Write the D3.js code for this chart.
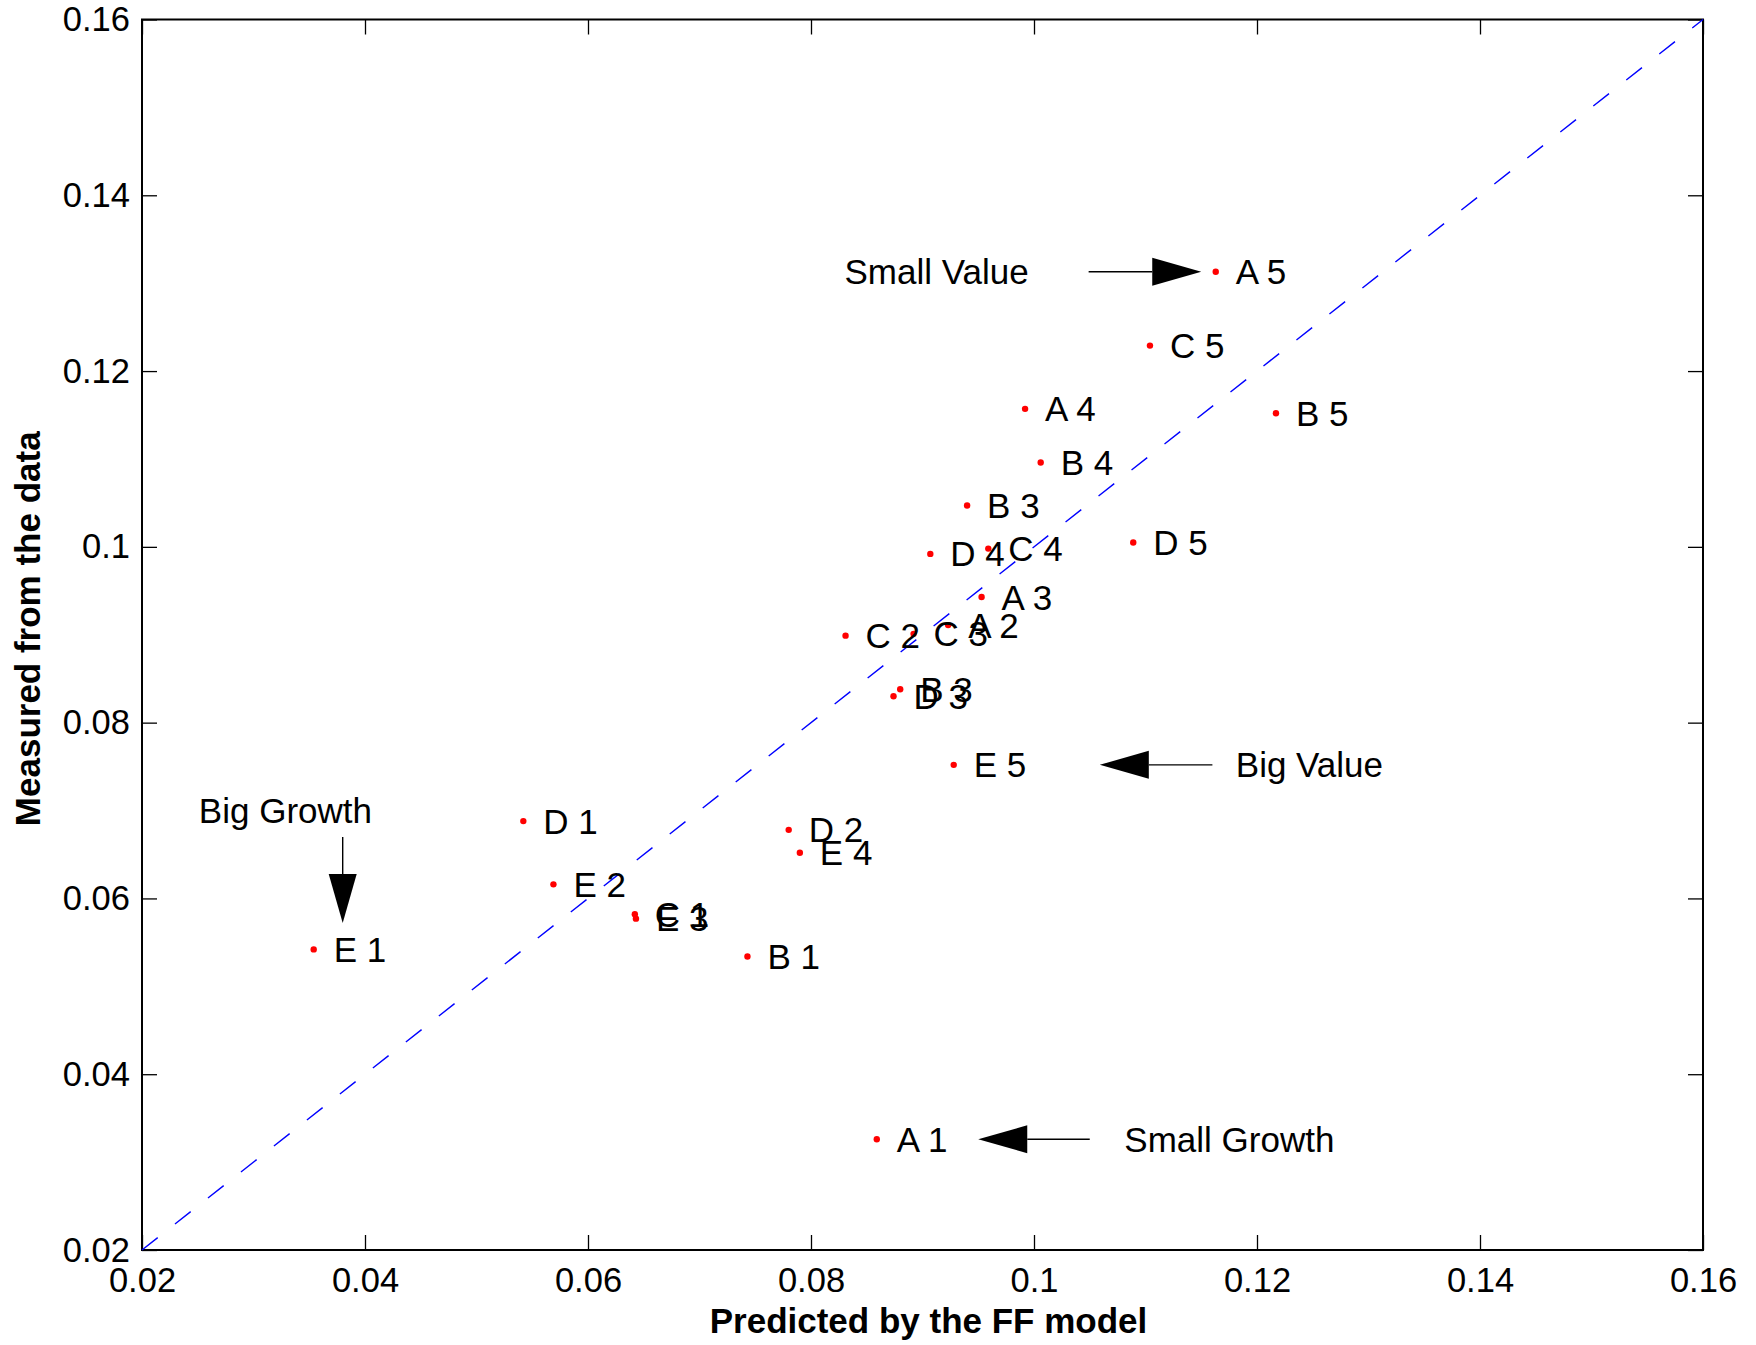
<!DOCTYPE html>
<html>
<head>
<meta charset="utf-8">
<script src="https://cdn.jsdelivr.net/npm/d3@7"></script>
<style>
  html, body { margin: 0; padding: 0; background: #fff; }
  svg { display: block; font-family: "Liberation Sans", Arial, Helvetica, sans-serif; }
  .tick line { stroke: #000; stroke-width: 1.3; }
  .tick text { font-size: 34.5px; fill: #000; }
  .pt-label, .note { font-size: 35px; fill: #000; }
  .axis-title { font-size: 35px; font-weight: bold; fill: #000; }
</style>
</head>
<body>
<svg id="chart" width="1756" height="1345"></svg>
<script>
// scatter: predicted (FF model) vs measured values

const labels = ['A 1', 'A 2', 'A 3', 'A 4', 'A 5',
                'B 1', 'B 3', 'B 3', 'B 4', 'B 5',
                'C 1', 'C 2', 'C 3', 'C 4', 'C 5',
                'D 1', 'D 2', 'D 3', 'D 4', 'D 5',
                'E 1', 'E 2', 'E 3', 'E 4', 'E 5'];
const predicted = [0.0859, 0.0923, 0.0953, 0.0992, 0.1163,
                   0.0743, 0.0880, 0.0940, 0.1006, 0.1217,
                   0.0642, 0.0831, 0.0892, 0.0959, 0.1104,
                   0.0542, 0.0780, 0.0874, 0.0907, 0.1089,
                   0.0354, 0.0569, 0.0643, 0.0790, 0.0928];
const measured  = [0.0326, 0.0911, 0.0943, 0.1157, 0.1313,
                   0.0534, 0.0838, 0.1047, 0.1096, 0.1152,
                   0.0582, 0.0899, 0.0901, 0.0998, 0.1229,
                   0.0688, 0.0678, 0.0830, 0.0992, 0.1005,
                   0.0542, 0.0616, 0.0577, 0.0652, 0.0752];

const tickValues = [0.02, 0.04, 0.06, 0.08, 0.10, 0.12, 0.14, 0.16];
const tickLabels = ['0.02', '0.04', '0.06', '0.08', '0.1', '0.12', '0.14', '0.16'];

// annotations (data coordinates)
const noteText   = ['Small Value', 'Big Value', 'Small Growth', 'Big Growth'];
const noteX      = [0.0830, 0.1181, 0.1081, 0.0251];
const noteY      = [0.1313, 0.0752, 0.0326, 0.0700];
const arrowFromX = [0.1049, 0.1160, 0.1050, 0.0380];
const arrowFromY = [0.1313, 0.0752, 0.0326, 0.0670];
const arrowToX   = [0.1150, 0.1059, 0.0950, 0.0380];
const arrowToY   = [0.1313, 0.0752, 0.0326, 0.0572];

const diagonal = [[0.02, 0.02], [0.16, 0.16]];

const L = 142, R = 1703, T = 19.5, B = 1250;
const TICK = 15;

const svg = d3.select('#chart');

const x = d3.scaleLinear().domain([0.02, 0.16]).range([L, R]);
const y = d3.scaleLinear().domain([0.02, 0.16]).range([B, T]);

const fmt = d => tickLabels[tickValues.indexOf(d)];

// axes with inward ticks
svg.append('g').attr('transform', `translate(0,${B})`)
  .call(d3.axisBottom(x).tickValues(tickValues).tickFormat(fmt)
    .tickSizeInner(-TICK).tickSizeOuter(0).tickPadding(18));
svg.append('g').attr('transform', `translate(${L},0)`)
  .call(d3.axisLeft(y).tickValues(tickValues).tickFormat(fmt)
    .tickSizeInner(-TICK).tickSizeOuter(0).tickPadding(12));
svg.append('g').attr('transform', `translate(0,${T})`)
  .call(d3.axisTop(x).tickValues(tickValues).tickFormat('')
    .tickSizeInner(-TICK).tickSizeOuter(0));
svg.append('g').attr('transform', `translate(${R},0)`)
  .call(d3.axisRight(y).tickValues(tickValues).tickFormat('')
    .tickSizeInner(-TICK).tickSizeOuter(0));

svg.selectAll('.domain').remove();
svg.selectAll('.tick text').attr('font-family', null).attr('font-size', null);

// box
svg.append('rect')
  .attr('x', L).attr('y', T)
  .attr('width', R - L).attr('height', B - T)
  .attr('fill', 'none').attr('stroke', '#000').attr('stroke-width', 2);

// 45 degree reference line
svg.append('path')
  .attr('d', d3.line().x(d => x(d[0])).y(d => y(d[1]))(diagonal))
  .attr('fill', 'none')
  .attr('stroke', '#0000ff')
  .attr('stroke-width', 1.4)
  .attr('stroke-dasharray', '20 22');

// points + labels
const pts = labels.map((l, i) => ({ label: l, px: predicted[i], my: measured[i] }));

svg.append('g').selectAll('circle')
  .data(pts)
  .join('circle')
  .attr('cx', d => x(d.px))
  .attr('cy', d => y(d.my))
  .attr('r', 3.2)
  .attr('fill', '#ff0000');

svg.append('g').selectAll('text')
  .data(pts)
  .join('text')
  .attr('class', 'pt-label')
  .attr('x', d => x(d.px) + 20)
  .attr('y', d => y(d.my))
  .attr('dy', '0.36em')
  .text(d => d.label);

// annotation arrows
const notes = noteText.map((t, i) => ({
  text: t, tx: noteX[i], ty: noteY[i],
  x1: arrowFromX[i], y1: arrowFromY[i], x2: arrowToX[i], y2: arrowToY[i]
}));

const HEAD_LEN = 49, HEAD_HALF = 14;
const ann = svg.append('g');

notes.forEach(n => {
  const ax = x(n.x1), ay = y(n.y1), bx = x(n.x2), by = y(n.y2);
  const ang = Math.atan2(by - ay, bx - ax);
  const ux = Math.cos(ang), uy = Math.sin(ang);
  const baseX = bx - ux * HEAD_LEN, baseY = by - uy * HEAD_LEN;

  ann.append('line')
    .attr('x1', ax).attr('y1', ay).attr('x2', baseX).attr('y2', baseY)
    .attr('stroke', '#000').attr('stroke-width', 1.4);

  ann.append('path')
    .attr('d', `M${bx},${by}L${baseX - uy * HEAD_HALF},${baseY + ux * HEAD_HALF}` +
               `L${baseX + uy * HEAD_HALF},${baseY - ux * HEAD_HALF}Z`)
    .attr('fill', '#000');

  ann.append('text')
    .attr('class', 'note')
    .attr('x', x(n.tx)).attr('y', y(n.ty))
    .attr('dy', '0.36em')
    .text(n.text);
});

// axis titles
svg.append('text')
  .attr('class', 'axis-title')
  .attr('x', (L + R) / 2 + 6).attr('y', 1333)
  .attr('text-anchor', 'middle')
  .text('Predicted by the FF model');

svg.append('text')
  .attr('class', 'axis-title')
  .attr('transform', `translate(40,${(T + B) / 2 - 6}) rotate(-90)`)
  .attr('text-anchor', 'middle')
  .text('Measured from the data');
</script>
</body>
</html>
